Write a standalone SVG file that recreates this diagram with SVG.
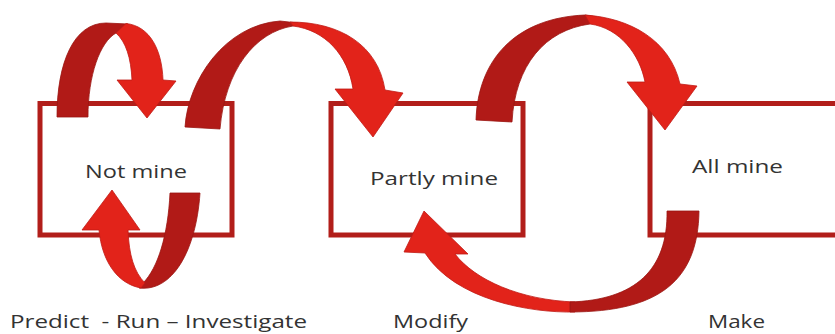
<svg xmlns="http://www.w3.org/2000/svg" width="835" height="334" viewBox="0 0 835 334">
<style>
.box{fill:#ffffff;stroke:#b21e1a;stroke-width:5;stroke-linejoin:miter}
.lbl{font-family:"Open Sans","Liberation Sans",sans-serif;font-size:19px;fill:#333333;white-space:pre}
.hi{fill:#e2231a;stroke:#c01a15;stroke-width:0.8;stroke-linejoin:round}
.lo{fill:#b11a17;stroke:#9a1512;stroke-width:0.8;stroke-linejoin:round}
</style>
<rect width="835" height="334" fill="#ffffff"/>
<g id="node-not-mine">
<rect class="box" x="40" y="103.5" width="192" height="131.5"/>
<text class="lbl" x="85" y="178" textLength="102" lengthAdjust="spacingAndGlyphs">Not mine</text>
</g>
<g id="node-partly-mine">
<rect class="box" x="331" y="103.5" width="192" height="131.5"/>
<text class="lbl" x="370" y="185" textLength="128" lengthAdjust="spacingAndGlyphs">Partly mine</text>
</g>
<g id="node-all-mine">
<path class="box" d="M850,103.5 H650 V235 H850"/>
<text class="lbl" x="692" y="173" textLength="91" lengthAdjust="spacingAndGlyphs">All mine</text>
</g>
<g id="connectors">
<g id="loop-top">
<path class="lo" d="M57,117 C57,62 74,23 106,23 L128,24 L116,33 C100,42 88,75 88,117 Z"/>
<path class="hi" d="M126,23.5 C150,26 162,50 163,80 L176,81 L147,118 L117,80 L132,80 C131,58 126,42 116,33 Z"/>
</g>
<g id="loop-bottom">
<path class="lo" d="M139,288 C172,292 196,252 200,193 L170,193 C168,235 158,268 143,283 Z"/>
<path class="hi" d="M82,230 L112,190 L140,230 L128,230 C129,255 134,272 145,283 L141,288 C118,284 102,262 99,230 Z"/>
</g>
<g id="not-to-partly">
<path class="lo" d="M185,127 C188,80 225,25 280,21 L298,23 L293,26 C255,32 225,70 220,129 Z"/>
<path class="hi" d="M290,22 C340,22 378,45 385,90 L403,93 L373,137 L335,89 L353,89 C348,55 325,30 293,26 Z"/>
</g>
<g id="partly-to-all">
<path class="lo" d="M476,120 C478,60 515,18 585,15 L597,17 L590,24 C545,30 515,65 512,122 Z"/>
<path class="hi" d="M585,15 C630,18 670,40 680,84 L697,86 L665,130 L627,82 L645,82 C640,55 620,28 590,24 Z"/>
</g>
<g id="all-to-partly">
<path class="hi" d="M575,312 C530,313 455,300 425,253 L404,252 L424,211 L468,254 L455,254 C475,280 520,300 575,302 Z"/>
<path class="lo" d="M667,211 L699,211 C698,280 660,312 570,312 L570,302 C635,300 668,270 667,211 Z"/>
</g>
</g>
<g id="captions">
<text class="lbl" x="10" y="328" textLength="297" lengthAdjust="spacingAndGlyphs">Predict  - Run – Investigate</text>
<text class="lbl" x="393" y="328" textLength="75" lengthAdjust="spacingAndGlyphs">Modify</text>
<text class="lbl" x="708" y="328" textLength="57" lengthAdjust="spacingAndGlyphs">Make</text>
</g>
</svg>
